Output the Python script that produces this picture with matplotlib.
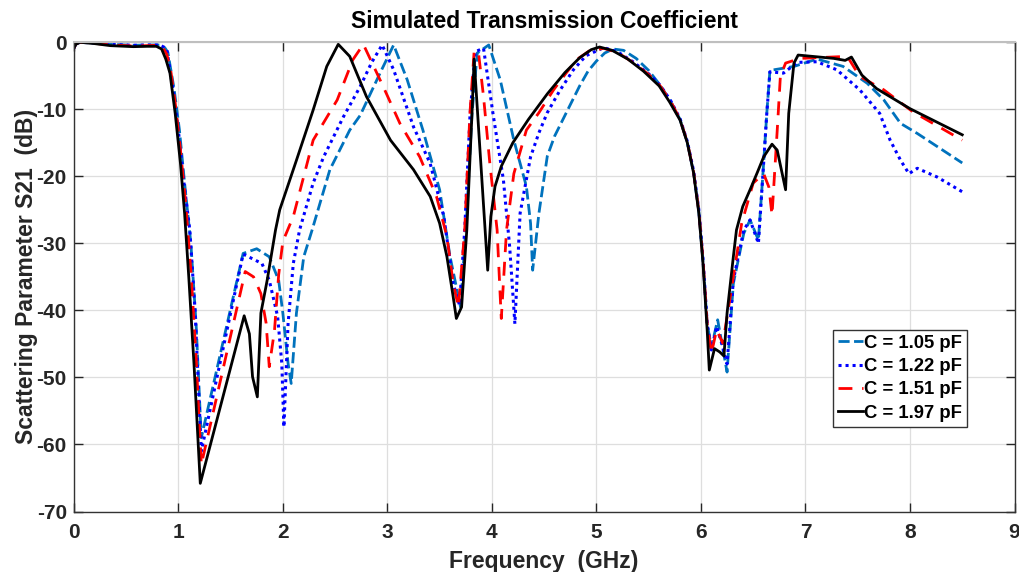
import matplotlib
matplotlib.use("Agg")
import matplotlib.pyplot as plt

plt.rcParams['font.family'] = ['Liberation Sans', 'DejaVu Sans']
plt.rcParams['font.weight'] = 'bold'
plt.rcParams['axes.unicode_minus'] = False

labels = ["C = 1.05 pF", "C = 1.22 pF", "C = 1.51 pF", "C = 1.97 pF"]

f_c = [0, 0.02, 0.06, 0.2, 0.35, 0.57, 0.7, 0.82, 0.87, 0.9, 0.96, 1.01, 1.06, 1.12, 1.17, 1.22,
       1.62, 1.75, 1.87, 1.96, 2.0, 2.05, 2.08, 2.13, 2.20, 2.28, 2.45, 2.64, 2.74, 2.93, 3.06,
       3.19, 3.34, 3.50, 3.60, 3.70, 3.76, 3.81, 3.86, 3.97, 4.08, 4.21, 4.33, 4.37, 4.39, 4.45,
       4.53, 4.60, 4.68, 4.76, 4.84, 4.92, 5.0, 5.08, 5.16, 5.26, 5.38, 5.50, 5.61, 5.71, 5.80,
       5.87, 5.93, 5.98, 6.02, 6.06, 6.10, 6.16, 6.25,
       6.31, 6.41, 6.47, 6.55, 6.60, 6.63, 6.66, 6.89, 7.11, 7.36, 7.59, 7.75, 7.91, 8.07, 8.5]
db_c = [-0.9, -0.2, 0.0, -0.1, -0.3, -0.45, -0.4, -0.4, -0.8, -1.5, -7, -13, -21, -30, -42, -59,
        -31.5, -30.8, -32, -35.5, -40.4, -47.9, -50.9, -40.4, -32, -28, -19, -13.1, -10.9, -4.6, -0.4,
        -5.6, -13.1, -22, -32, -39.5, -25.5, -10.6, -1.6, -0.4, -5.6, -14.6, -21.5, -27, -34, -25.5,
        -17, -14, -11.5, -9, -6.5, -4.3, -2.8, -1.6, -1.0, -1.2, -2.4, -4.2, -6.4, -8.8, -11.5,
        -15, -19.5, -25.3, -32.8, -42, -45.5, -41.4, -49.2,
        -36, -28.5, -26.5, -29.5, -18, -10.6, -4.2, -3.6, -2.5, -3.6, -6.1, -8.6, -12.1, -13.6, -18]

f_b = [0, 0.02, 0.06, 0.2, 0.35, 0.57, 0.7, 0.82, 0.86, 0.89, 0.95, 1.0, 1.05, 1.11, 1.16, 1.22,
       1.62, 1.80, 1.87, 1.95, 1.99, 2.01, 2.05, 2.10, 2.16, 2.29, 2.39, 2.58, 2.74, 2.85, 2.95,
       3.06, 3.25, 3.41, 3.54, 3.63, 3.69, 3.74, 3.79, 3.84, 3.92, 4.01, 4.11, 4.17, 4.22, 4.27,
       4.37, 4.45, 4.53, 4.65, 4.78, 4.90, 5.07, 5.20, 5.35, 5.50, 5.61, 5.71, 5.80, 5.87, 5.93,
       5.98, 6.02, 6.06, 6.10, 6.15, 6.20, 6.25,
       6.31, 6.41, 6.47, 6.55, 6.60, 6.63, 6.66, 6.79, 6.92, 7.11, 7.30, 7.52, 7.71, 7.81, 7.91,
       7.99, 8.07, 8.26, 8.5]
db_b = [-0.9, -0.2, 0.0, -0.1, -0.3, -0.45, -0.4, -0.4, -0.7, -1.1, -7.1, -13.1, -20.5, -28, -40, -61,
        -31.6, -33, -35.5, -40.9, -47.9, -57.4, -42, -33, -28, -21, -17.1, -11.1, -6.6, -3, -0.4,
        -4.1, -12.6, -18.1, -26, -36, -39.2, -28, -11.1, -1.4, -0.9, -10.6, -20.5, -30.5, -42, -25.5,
        -17.1, -13.5, -10.5, -7.2, -4.1, -2.0, -0.8, -1.4, -2.9, -4.7, -6.4, -8.7, -11.4, -14.8, -19.2,
        -25, -32.3, -42, -45.9, -42.4, -45, -48,
        -35.5, -28, -26.5, -30, -18, -10.6, -4.4, -4.6, -3.0, -2.9, -4.1, -7.1, -10.6, -14.6, -17.6,
        -19.6, -18.8, -20.1, -22.3]

f_r = [0, 0.02, 0.06, 0.2, 0.35, 0.57, 0.7, 0.8, 0.85, 0.89, 0.93, 0.97, 1.02, 1.07, 1.12, 1.17, 1.22,
       1.64, 1.72, 1.79, 1.84, 1.87, 1.92, 1.96, 2.0, 2.10, 2.29, 2.52, 2.67, 2.77, 2.96, 3.12, 3.31,
       3.47, 3.57, 3.63, 3.68, 3.74, 3.79, 3.83, 3.87, 3.92, 3.98, 4.05, 4.08, 4.09, 4.14, 4.21, 4.33,
       4.45, 4.59, 4.70, 4.81, 4.93, 5.07, 5.20, 5.35, 5.50, 5.61, 5.71, 5.80, 5.87, 5.93, 5.98,
       6.02, 6.06, 6.10, 6.15, 6.21, 6.28, 6.39, 6.50,
       6.60, 6.65, 6.68, 6.73, 6.76, 6.81, 6.95, 7.40, 7.52, 7.75, 8.03, 8.5]
db_r = [-0.9, -0.2, 0.0, -0.15, -0.4, -0.55, -0.5, -0.45, -0.7, -1.8, -4.5, -9, -16, -24, -34, -47, -63,
        -34.2, -35, -37.5, -41.9, -48.4, -43, -34.7, -29.7, -26, -14.6, -8.6, -2.6, -0.3, -6.6, -12.1, -17.1,
        -23, -29, -36, -39.5, -28, -10.6, -1.4, -1.3, -8.1, -18, -28, -38, -41.2, -28, -19.6, -13.1,
        -10.5, -7.1, -4.8, -2.6, -1.3, -0.9, -1.5, -3.0, -4.8, -6.5, -8.8, -11.5, -14.9, -19.4, -25.2,
        -32.5, -42, -46.4, -42.9, -44.9, -38, -27, -21,
        -19.6, -21.6, -25.8, -13.1, -5.1, -3.1, -2.4, -2.1, -5.1, -7.1, -10.4, -14.6]

f_k = [0, 0.02, 0.06, 0.2, 0.35, 0.57, 0.7, 0.79, 0.84, 0.88, 0.92, 0.97, 1.02, 1.06, 1.1, 1.15, 1.21,
       1.63, 1.68, 1.71, 1.756, 1.79, 1.85, 1.93, 1.97, 2.13, 2.29, 2.42, 2.53, 2.64, 2.80, 3.03, 3.25,
       3.41, 3.50, 3.57, 3.63, 3.66, 3.71, 3.76, 3.81, 3.83, 3.96, 3.99, 4.03, 4.09, 4.20, 4.35, 4.53,
       4.70, 4.84, 4.95, 5.03, 5.15, 5.30, 5.45, 5.60, 5.70, 5.80, 5.87, 5.93, 5.98, 6.02, 6.06, 6.08,
       6.13, 6.18, 6.22, 6.25, 6.31, 6.34, 6.40, 6.47, 6.54, 6.60,
       6.68, 6.73, 6.81, 6.84, 6.89, 6.93, 7.27, 7.38, 7.44, 7.54, 7.68, 8.0, 8.5]
db_k = [-0.9, -0.3, 0.0, -0.2, -0.5, -0.65, -0.6, -0.6, -1.0, -2.5, -4.6, -10.6, -18, -25.5, -35, -48, -65.8,
        -40.8, -43.5, -49.9, -52.9, -40.4, -35.5, -28, -25, -17.6, -10.1, -3.6, -0.3, -2.1, -8.1, -14.6, -19,
        -23, -27, -32, -38, -41.2, -39.5, -28, -10.5, -2.5, -34, -26, -21.5, -18.5, -15, -11.5, -7.7,
        -4.5, -2.3, -1.1, -0.7, -1.2, -2.5, -4.3, -6.5, -8.9, -11.6, -15, -19.5, -25.5, -33, -43, -48.9,
        -45.7, -46.2, -46.8, -40.4, -32, -28, -24.5, -22, -19.4, -17.1,
        -15.2, -16.1, -22, -10.6, -3.1, -1.9, -2.4, -2.7, -2.2, -4.9, -6.9, -9.9, -13.8]

fig = plt.figure(figsize=(10.19, 5.72), dpi=100)
ax = fig.add_axes([73.8 / 1019, 1 - 511.5 / 572, 940.7 / 1019, 469.2 / 572])

ax.plot(f_c, db_c, color='#0072BD', lw=2.0, linestyle=(0, (4, 1.6)), label=labels[0])
ax.plot(f_b, db_b, color='#0000FF', lw=2.2, linestyle=(0, (1, 1.3)), label=labels[1])
ax.plot(f_r, db_r, color='#FF0000', lw=2.0, linestyle=(0, (5, 3.5)), label=labels[2])
ax.plot(f_k, db_k, color='black', lw=2.0, linestyle='-', label=labels[3])

ax.set_xlim(0, 9)
ax.set_ylim(-70, 0)
ax.set_xticks(range(0, 10))
ax.set_yticks(range(-70, 1, 10))
ax.grid(True, color='0.87', lw=0.9)
ax.set_axisbelow(True)
ax.tick_params(direction='in', length=6.5, width=1.0, top=True, right=True,
               labelsize=15, colors='0.15')
ax.tick_params(axis='x', pad=8)
ax.tick_params(axis='y', pad=5)
for lab in ax.get_xticklabels() + ax.get_yticklabels():
    lab.set_fontweight('bold')
for s in ['left', 'bottom', 'right']:
    ax.spines[s].set_color('0.2')
    ax.spines[s].set_linewidth(1.0)
ax.spines['top'].set_color('0.75')
ax.spines['top'].set_linewidth(1.5)

ax.set_title('Simulated Transmission Coefficient', fontsize=16.5, fontweight='bold', pad=10)
ax.set_xlabel('Frequency  (GHz)', fontsize=16.5, fontweight='bold', color='0.15', labelpad=6)
ax.set_ylabel('Scattering Parameter S21  (dB)', fontsize=16.5, fontweight='bold', color='0.15', labelpad=-1)

leg = ax.legend(loc='upper left', bbox_to_anchor=(0.807, 0.387), borderaxespad=0,
                fancybox=False, framealpha=1, edgecolor='0.2', handlelength=1.35,
                handletextpad=0.1, borderpad=0.25, labelspacing=0.35,
                prop={'size': 13.3, 'weight': 'bold'})
leg.get_frame().set_linewidth(1.0)

fig.savefig('out.png', dpi=100)
